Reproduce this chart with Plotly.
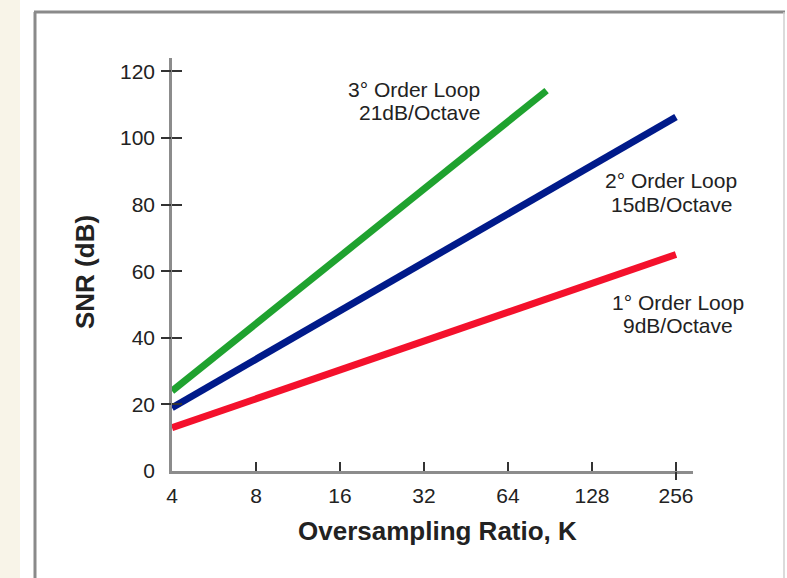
import math
import plotly.graph_objects as go

# Oversampling ratio K and SNR (dB) at the ends of each noise-shaping curve
k_first = [4, 256]
snr_first = [13, 65]
k_second = [4, 256]
snr_second = [19, 106.3]
k_third = [4, 88]
snr_third = [24, 114.2]

x_ticks = [4, 8, 16, 32, 64, 128, 256]
y_ticks = [0, 20, 40, 60, 80, 100, 120]

label_third = ["3° Order Loop", "21dB/Octave"]
label_second = ["2° Order Loop", "15dB/Octave"]
label_first = ["1° Order Loop", "9dB/Octave"]

W, H = 787, 578
L, R, T, B = 172, 693, 58, 471  # plot-area edges in pixels


def px(xp):
    return (xp - L) / (R - L)


def py(yp):
    return (B - yp) / (B - T)


FONT = "Liberation Sans, Arial, sans-serif"
GREEN = "#1fa22f"
BLUE = "#001a8a"
RED = "#f4112c"

fig = go.Figure()
fig.add_trace(go.Scatter(x=k_first, y=snr_first, mode="lines",
                         line=dict(color=RED, width=7), showlegend=False))
fig.add_trace(go.Scatter(x=k_second, y=snr_second, mode="lines",
                         line=dict(color=BLUE, width=7), showlegend=False))
fig.add_trace(go.Scatter(x=k_third, y=snr_third, mode="lines",
                         line=dict(color=GREEN, width=7), showlegend=False))
# helper traces so the overlay axes (crossing tick marks) get drawn
for ax in (dict(yaxis="y2"), dict(yaxis="y3"), dict(xaxis="x2")):
    fig.add_trace(go.Scatter(x=[4], y=[0], mode="markers",
                             marker=dict(size=0.1, opacity=0),
                             showlegend=False, hoverinfo="skip", **ax))

x_range = [math.log10(4), math.log10(4 * 2 ** ((R - L) / 84.0))]
y_range = [0, 124]

tick_common = dict(tickwidth=1.5, tickcolor="#333", showticklabels=False,
                   showline=False, showgrid=False, zeroline=False)

fig.update_layout(
    width=W, height=H,
    margin=dict(l=L, r=W - R, t=T, b=H - B, pad=0),
    paper_bgcolor="white",
    plot_bgcolor="rgba(0,0,0,0)",
    font=dict(family=FONT, color="#222"),
    xaxis=dict(
        type="log", range=x_range, tickvals=x_ticks,
        ticktext=[str(v) for v in x_ticks],
        ticks="inside", ticklen=9, tickwidth=1.5, tickcolor="#333",
        showline=True, linecolor="#8c8c8c", linewidth=2.5,
        showgrid=False, zeroline=False,
        tickfont=dict(size=21, color="#222", family=FONT),
        ticklabelstandoff=4,
    ),
    xaxis2=dict(type="log", range=x_range, overlaying="x", anchor="y",
                tickvals=[256], ticks="outside", ticklen=8, **tick_common),
    # labelled axis; its own tick marks are hidden
    yaxis=dict(
        range=y_range, tickvals=y_ticks,
        ticks="outside", ticklen=10, tickwidth=1.5,
        tickcolor="rgba(0,0,0,0)",
        showline=True, linecolor="#8c8c8c", linewidth=2.5,
        showgrid=False, zeroline=False,
        tickfont=dict(size=21, color="#222", family=FONT),
    ),
    # crossing tick marks above zero
    yaxis2=dict(range=y_range, overlaying="y", anchor="x", side="left",
                tickvals=y_ticks[1:], ticks="inside", ticklen=10,
                **tick_common),
    yaxis3=dict(range=y_range, overlaying="y", anchor="x", side="left",
                tickvals=y_ticks[1:], ticks="outside", ticklen=10,
                **tick_common),
)

shapes = [
    # cream strip on the left edge of the page
    dict(type="rect", xref="paper", yref="paper", layer="below",
         x0=px(-5), x1=px(20), y0=py(H + 5), y1=py(-5),
         fillcolor="#f8f4e8", line=dict(width=0)),
    # framed panel
    dict(type="line", xref="paper", yref="paper", layer="below",
         x0=px(35), x1=px(35), y0=py(12), y1=py(H + 10),
         line=dict(color="#8a8a8a", width=3)),
    dict(type="line", xref="paper", yref="paper", layer="below",
         x0=px(34), x1=px(785), y0=py(12), y1=py(12),
         line=dict(color="#8a8a8a", width=3)),
    dict(type="line", xref="paper", yref="paper", layer="below",
         x0=px(784), x1=px(784), y0=py(12), y1=py(H + 10),
         line=dict(color="#cfcfcf", width=1.5)),
]
fig.update_layout(shapes=shapes)

annotations = []


def add_text(text, xp, yp, size=21, bold=False, angle=0, xanchor="center"):
    annotations.append(dict(
        text=f"<b>{text}</b>" if bold else text,
        xref="paper", yref="paper", x=px(xp), y=py(yp),
        xanchor=xanchor, yanchor="middle", showarrow=False,
        textangle=angle,
        font=dict(family=FONT, size=size, color="#222"),
    ))


add_text(label_third[0], 482, 89, xanchor="right")
add_text(label_third[1], 482, 112, xanchor="right")
add_text(label_second[0], 671, 180)
add_text(label_second[1], 671, 204)
add_text(label_first[0], 678, 302)
add_text(label_first[1], 678, 325)

add_text("Oversampling Ratio, K", 437, 531, size=26, bold=True)
add_text("SNR (dB)", 85, 272, size=26, bold=True, angle=-90)

fig.update_layout(annotations=annotations)

fig.write_html("out.html")
